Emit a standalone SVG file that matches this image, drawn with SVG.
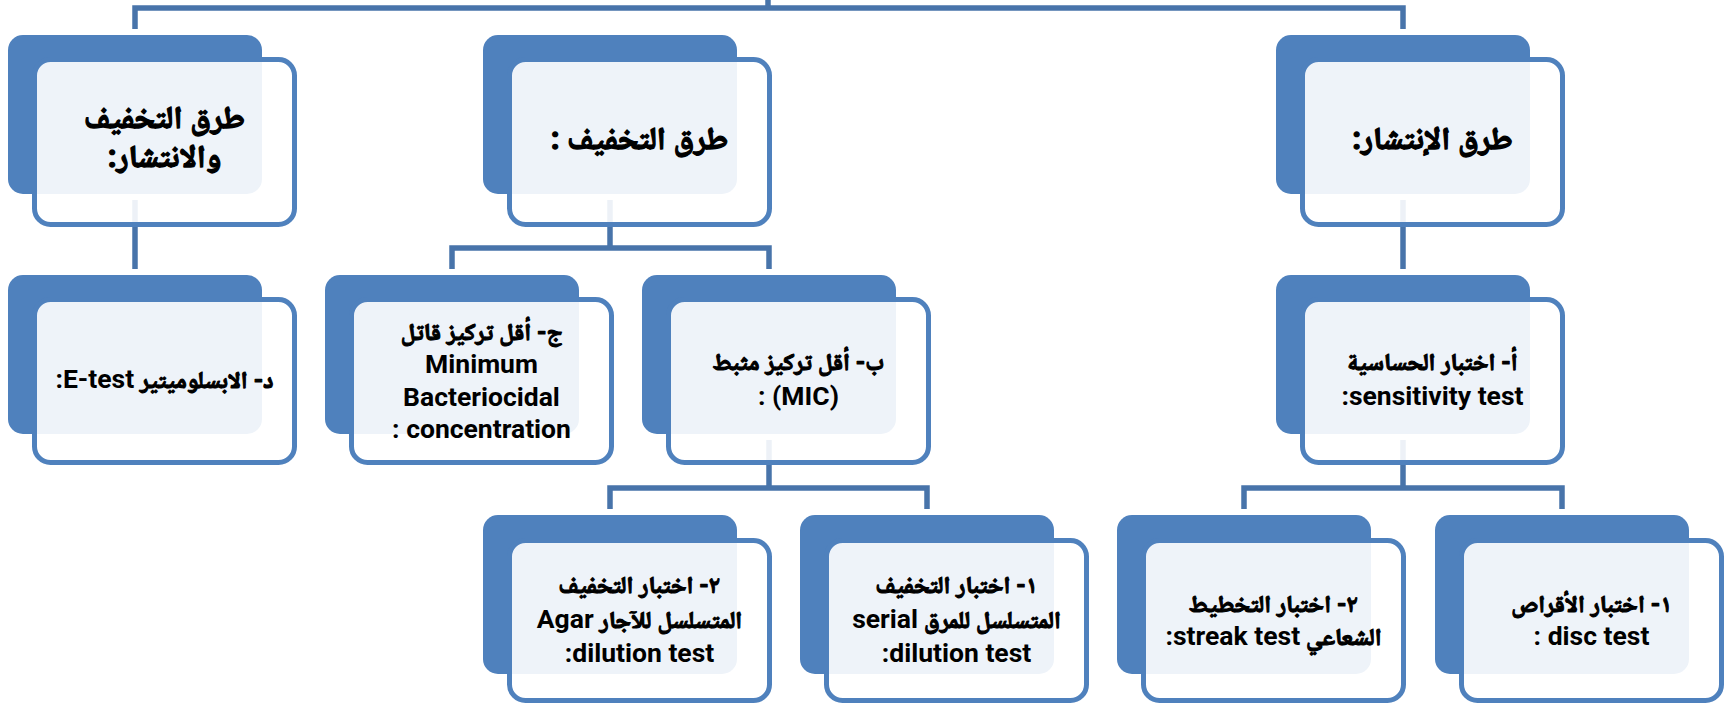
<svg xmlns="http://www.w3.org/2000/svg" width="1732" height="705" viewBox="0 0 1732 705">
<style>
.bk{fill:#4F81BD}
.fr{fill:#fff;fill-opacity:0.9;stroke:#4F81BD;stroke-width:5}
.cn{fill:none;stroke:#4874AA;stroke-width:5.5;stroke-linejoin:miter}
text{font-family:"Roboto","Noto Naskh Arabic","Noto Sans Arabic","DejaVu Sans",sans-serif;font-weight:bold;fill:#000;stroke:#000;stroke-width:1.1;stroke-linejoin:round;text-anchor:middle;direction:rtl;font-size:24px}
.big{font-size:31.5px;stroke-width:1.3}
.la{stroke:none;font-size:26.5px}
</style>
<rect width="1732" height="705" fill="#fff"/>
<g id="connectors">
<path class="cn" d="M768 0V8"/>
<path class="cn" d="M135 29V8H1403V29"/>
<path class="cn" d="M135 200V269"/>
<path class="cn" d="M610 200V248"/>
<path class="cn" d="M452 269V248H769V269"/>
<path class="cn" d="M1403 200V269"/>
<path class="cn" d="M769 440V488"/>
<path class="cn" d="M610 509V488H927V509"/>
<path class="cn" d="M1403 440V488"/>
<path class="cn" d="M1244 509V488H1562V509"/>
</g>
<g id="n1"><rect class="bk" x="8" y="35" width="254" height="159" rx="15"/><rect class="fr" x="34.5" y="59.5" width="260" height="165" rx="16"/>
<text class="big" x="164.5" y="128">طرق التخفيف</text><text class="big" x="164.5" y="167">والانتشار:</text></g>
<g id="n2"><rect class="bk" x="483" y="35" width="254" height="159" rx="15"/><rect class="fr" x="509.5" y="59.5" width="260" height="165" rx="16"/>
<text class="big" x="639.5" y="149">طرق التخفيف :</text></g>
<g id="n3"><rect class="bk" x="1276" y="35" width="254" height="159" rx="15"/><rect class="fr" x="1302.5" y="59.5" width="260" height="165" rx="16"/>
<text class="big" x="1432.5" y="149">طرق الإنتشار:</text></g>
<g id="n4"><rect class="bk" x="8" y="275" width="254" height="159" rx="15"/><rect class="fr" x="34.5" y="299.5" width="260" height="163" rx="16"/>
<text x="164.5" y="388">د- الابسلوميتير <tspan class="la">E-test:</tspan></text></g>
<g id="n5"><rect class="bk" x="325" y="275" width="254" height="159" rx="15"/><rect class="fr" x="351.5" y="299.5" width="260" height="163" rx="16"/>
<text x="481.5" y="340">ج- أقل تركيز قاتل</text><text class="la" x="481.5" y="373">Minimum</text><text class="la" x="481.5" y="406">Bacteriocidal</text><text class="la" x="481.5" y="438">concentration :</text></g>
<g id="n6"><rect class="bk" x="642" y="275" width="254" height="159" rx="15"/><rect class="fr" x="668.5" y="299.5" width="260" height="163" rx="16"/>
<text x="798.5" y="370">ب- أقل تركيز مثبط</text><text class="la" x="798.5" y="405">(MIC) :</text></g>
<g id="n7"><rect class="bk" x="1276" y="275" width="254" height="159" rx="15"/><rect class="fr" x="1302.5" y="299.5" width="260" height="163" rx="16"/>
<text x="1432.5" y="370">أ- اختبار الحساسية</text><text class="la" x="1432.5" y="405">sensitivity test:</text></g>
<g id="n8"><rect class="bk" x="483" y="515" width="254" height="159" rx="15"/><rect class="fr" x="509.5" y="540.5" width="260" height="160" rx="16"/>
<text x="639.5" y="593">٢- اختبار التخفيف</text><text x="639.5" y="628">المتسلسل للآجار  <tspan class="la">Agar</tspan></text><text class="la" x="639.5" y="662">dilution test:</text></g>
<g id="n9"><rect class="bk" x="800" y="515" width="254" height="159" rx="15"/><rect class="fr" x="826.5" y="540.5" width="260" height="160" rx="16"/>
<text x="956.5" y="593">١- اختبار التخفيف</text><text x="956.5" y="628">المتسلسل للمرق  <tspan class="la">serial</tspan></text><text class="la" x="956.5" y="662">dilution test:</text></g>
<g id="n10"><rect class="bk" x="1117" y="515" width="254" height="159" rx="15"/><rect class="fr" x="1143.5" y="540.5" width="260" height="160" rx="16"/>
<text x="1273.5" y="612">٢- اختبار التخطيط</text><text x="1273.5" y="645">الشعاعي <tspan class="la">streak test:</tspan></text></g>
<g id="n11"><rect class="bk" x="1435" y="515" width="254" height="159" rx="15"/><rect class="fr" x="1461.5" y="540.5" width="260" height="160" rx="16"/>
<text x="1591.5" y="612">١- اختبار الأقراص</text><text class="la" x="1591.5" y="645">disc test :</text></g>
</svg>
